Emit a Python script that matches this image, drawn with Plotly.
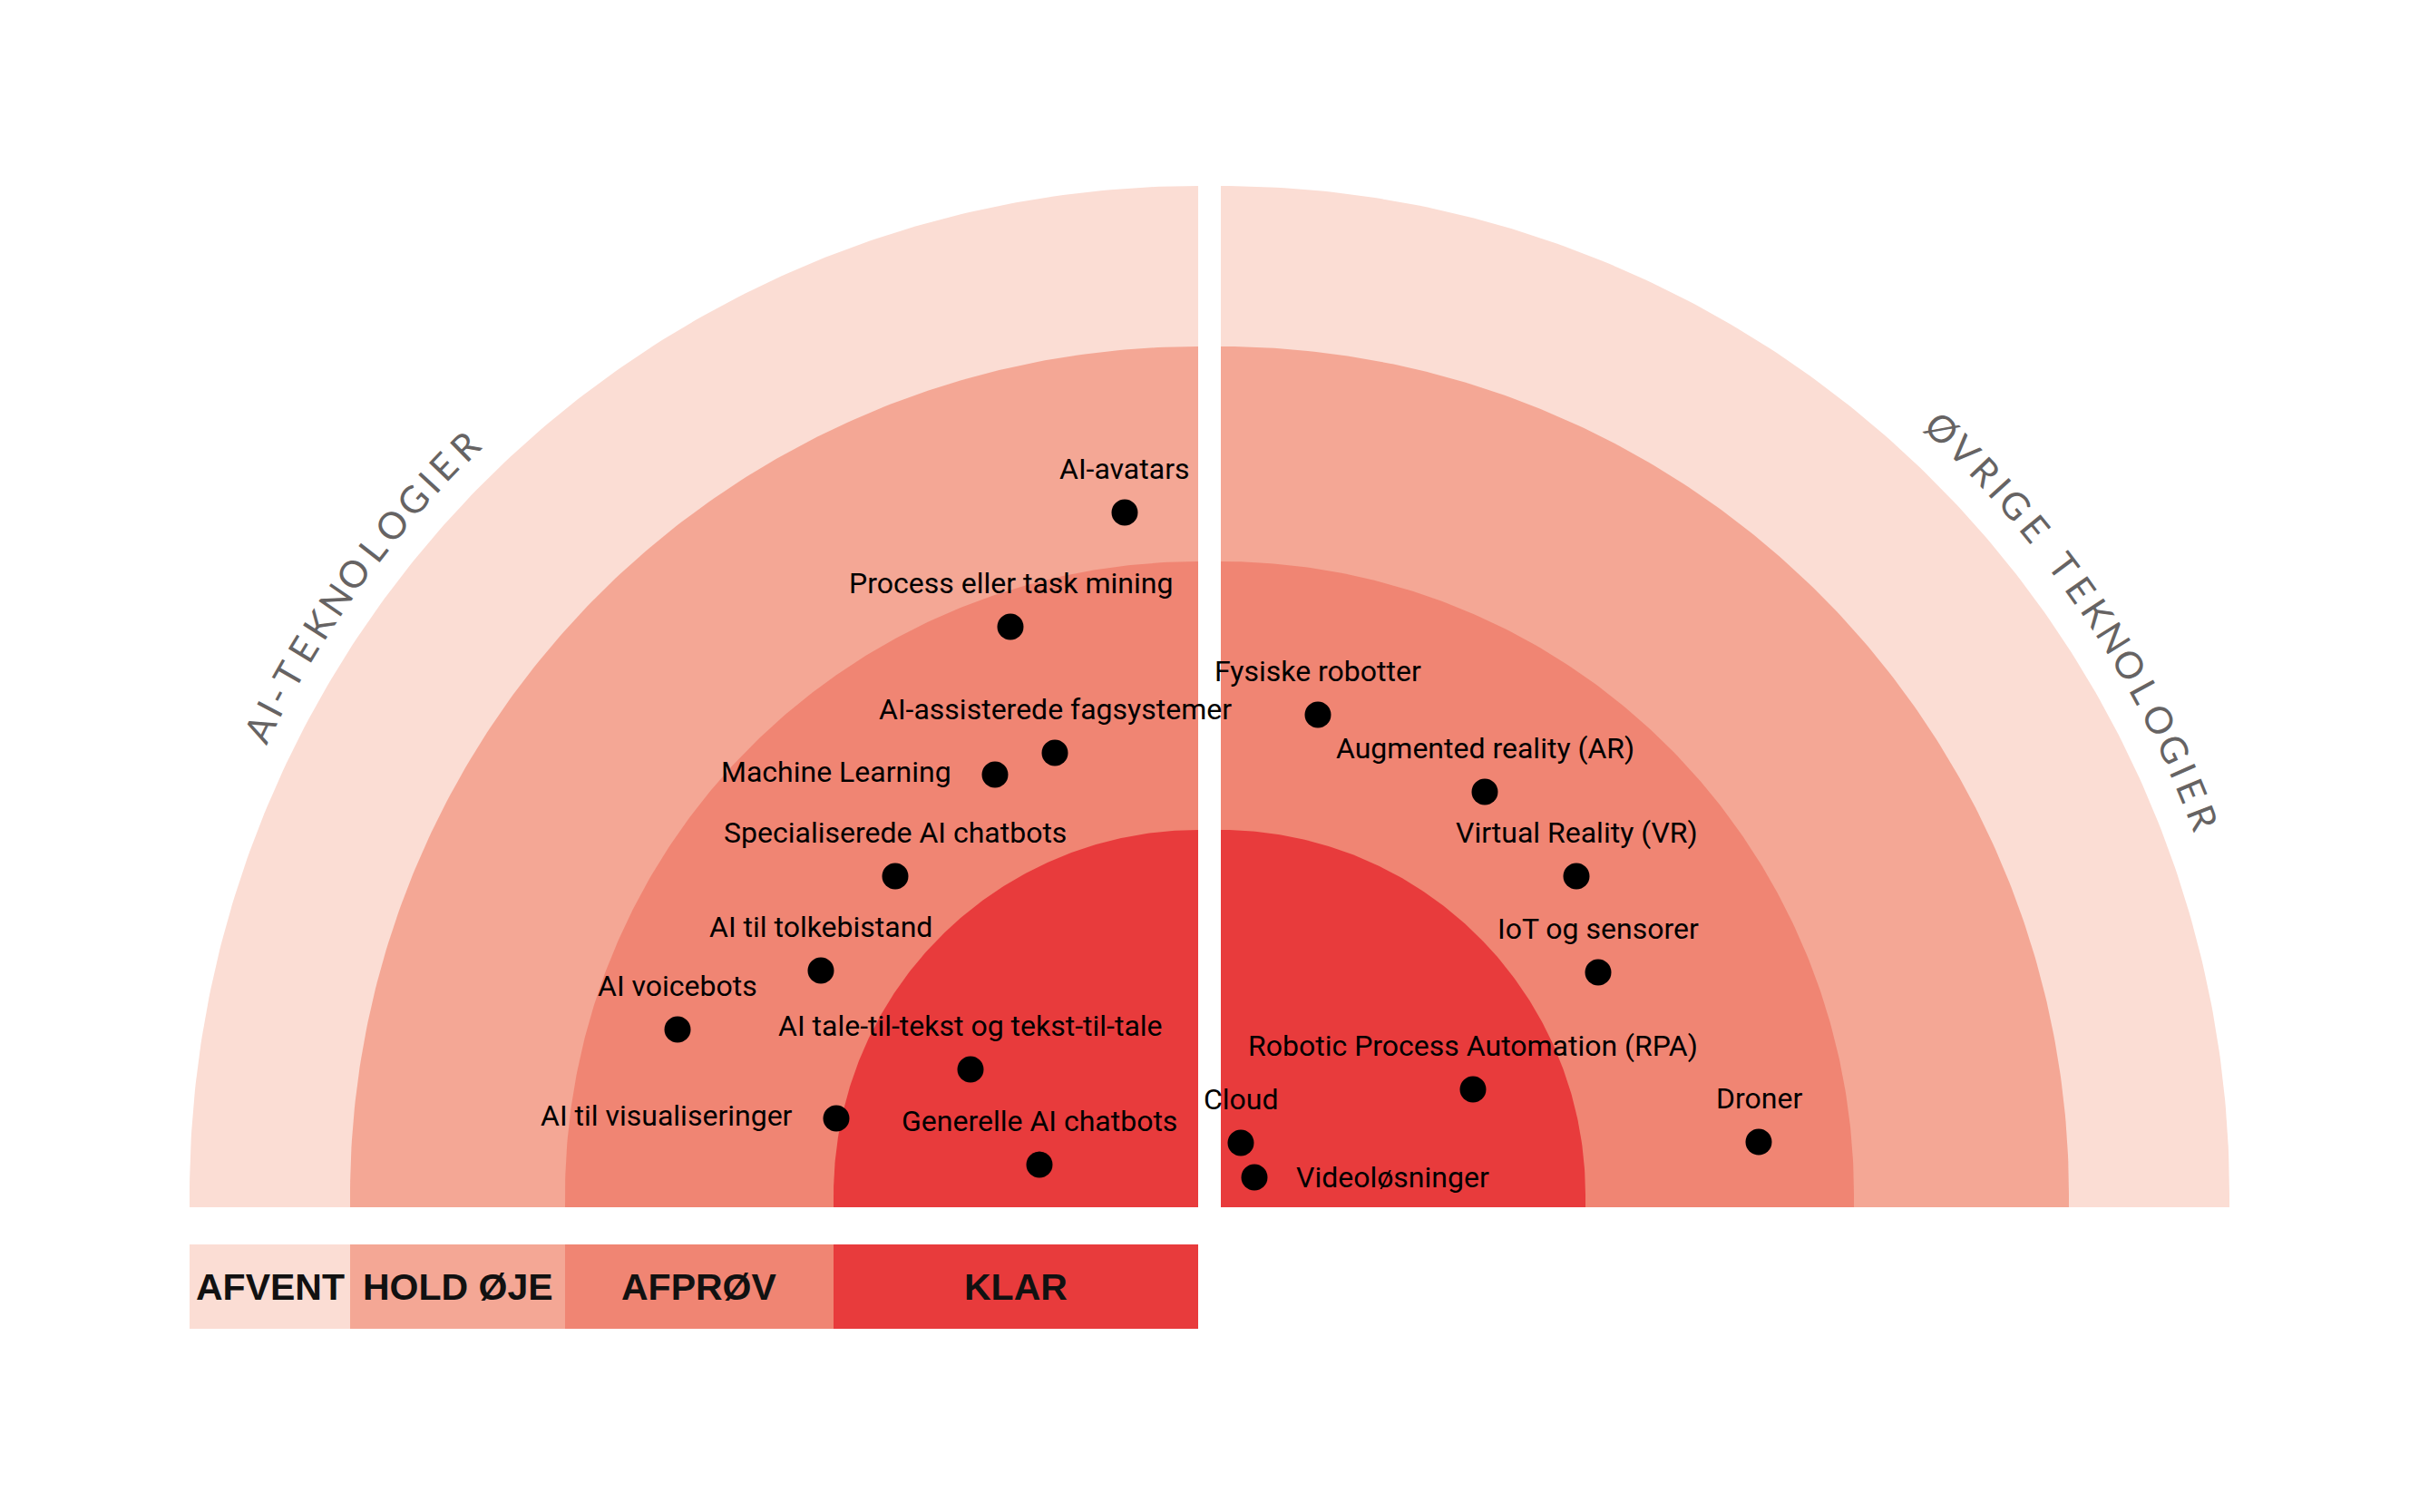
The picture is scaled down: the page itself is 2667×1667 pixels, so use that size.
import numpy as np
import plotly.graph_objects as go

# ring bands (outer to inner) and legend
ring_names = ["AFVENT", "HOLD ØJE", "AFPRØV", "KLAR"]
ring_radius = [1112, 935, 698, 402]
ring_colors = ["#FBDDD4", "#F4A795", "#F08573", "#E83B3C"]

# AI-teknologier (left half)
ai_names = ["AI-avatars", "Process eller task mining", "AI-assisterede fagsystemer", "Machine Learning",
            "Specialiserede AI chatbots", "AI til tolkebistand", "AI voicebots",
            "AI tale-til-tekst og tekst-til-tale", "AI til visualiseringer", "Generelle AI chatbots"]
ai_x = [1240, 1114, 1163, 1097, 987, 905, 747, 1070, 922, 1146]
ai_y = [565, 691, 830, 854, 966, 1070, 1135, 1179, 1233, 1284]
ai_side = ["top", "top", "top", "left", "top", "top", "top", "top", "left", "top"]

# Øvrige teknologier (right half)
ot_names = ["Fysiske robotter", "Augmented reality (AR)", "Virtual Reality (VR)", "IoT og sensorer",
            "Robotic Process Automation (RPA)", "Droner", "Cloud", "Videoløsninger"]
ot_x = [1453, 1637, 1738, 1762, 1624, 1939, 1368, 1383]
ot_y = [788, 873, 966, 1072, 1201, 1259, 1260, 1298]
ot_side = ["top", "top", "top", "top", "top", "top", "top", "right"]

W, H = 2667, 1667
OFF = 8  # page margin of the html body
left_c = (1321, 1317)
right_c = (1346, 1317)
base_y = 1331
legend_y = (1372, 1465)

fig = go.Figure()

# quarter rings, biggest first
for r, col in zip(ring_radius, ring_colors):
    th = np.linspace(np.pi / 2, np.pi, 200)
    cx, cy = left_c
    xs = list(cx + r * np.cos(th)) + [cx - r, cx]
    ys = list(cy - r * np.sin(th)) + [base_y, base_y]
    fig.add_trace(go.Scatter(x=xs, y=ys, fill="toself", fillcolor=col, mode="lines",
                             line=dict(width=0), hoverinfo="skip", showlegend=False))
    th = np.linspace(0, np.pi / 2, 200)
    cx, cy = right_c
    xs = [cx, cx + r] + list(cx + r * np.cos(th))
    ys = [base_y, base_y] + list(cy - r * np.sin(th))
    fig.add_trace(go.Scatter(x=xs, y=ys, fill="toself", fillcolor=col, mode="lines",
                             line=dict(width=0), hoverinfo="skip", showlegend=False))

# legend strip under the left half
edges = ring_radius + [0]
for i, name in enumerate(ring_names):
    x0 = left_c[0] - edges[i]
    x1 = left_c[0] - edges[i + 1]
    fig.add_shape(type="rect", x0=x0, x1=x1, y0=legend_y[0], y1=legend_y[1],
                  fillcolor=ring_colors[i], line=dict(width=0), layer="below")
    fig.add_annotation(x=(x0 + x1) / 2, y=sum(legend_y) / 2, text="<b>%s</b>" % name, showarrow=False,
                       font=dict(family="Liberation Sans, Arial", size=41, color="#111111"))

# dots
fig.add_trace(go.Scatter(x=ai_x + ot_x, y=ai_y + ot_y, mode="markers",
                         marker=dict(size=29, color="black"), hoverinfo="skip", showlegend=False))

label_font = dict(family="Roboto, Liberation Sans", size=32, color="black")
for names, xs, ys, sides in [(ai_names, ai_x, ai_y, ai_side), (ot_names, ot_x, ot_y, ot_side)]:
    for n, x, y, s in zip(names, xs, ys, sides):
        if s == "top":
            fig.add_annotation(x=x, y=y, text=n, showarrow=False, yshift=48,
                               xanchor="center", yanchor="middle", font=label_font)
        elif s == "left":
            fig.add_annotation(x=x, y=y, text=n, showarrow=False, xshift=-46, yshift=3,
                               xanchor="right", yanchor="middle", font=label_font)
        else:
            fig.add_annotation(x=x, y=y, text=n, showarrow=False, xshift=44, yshift=0,
                               xanchor="left", yanchor="middle", font=label_font)


# curved section titles, one annotation per letter
def arc_text(text, center, radius, a_start, a_end):
    wid = {"I": 0.5, "-": 0.6, " ": 0.6, "O": 1.15, "Ø": 1.15, "G": 1.1}
    w = np.array([wid.get(c, 1.0) for c in text])
    mids = np.cumsum(w) - w / 2
    frac = (mids - mids[0]) / (mids[-1] - mids[0])
    for c, f in zip(text, frac):
        if c == " ":
            continue
        a = a_start + (a_end - a_start) * f
        t = np.radians(a)
        fig.add_annotation(x=center[0] + radius * np.cos(t), y=center[1] - radius * np.sin(t),
                           text=c, showarrow=False, textangle=90 - a,
                           xanchor="center", yanchor="middle",
                           font=dict(family="Lato, Open Sans", size=41, color="#666363"))


arc_text("AI-TEKNOLOGIER", left_c, 1156, 153.6, 134.4)
arc_text("ØVRIGE TEKNOLOGIER", right_c, 1160, 46.7, 21.0)

fig.update_layout(
    width=W, height=H,
    margin=dict(l=0, r=0, t=0, b=0),
    paper_bgcolor="white", plot_bgcolor="white",
    xaxis=dict(range=[OFF, W + OFF], visible=False, fixedrange=True),
    yaxis=dict(range=[H + OFF, OFF], visible=False, fixedrange=True),
    showlegend=False,
)

fig.write_html("out.html")
